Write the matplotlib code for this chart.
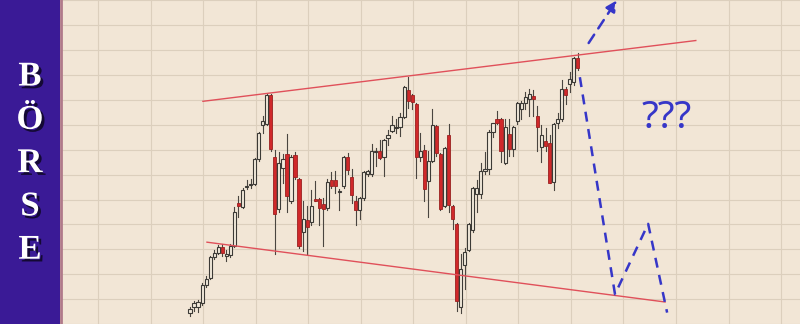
import numpy as np
import matplotlib.pyplot as plt
import matplotlib.patheffects as pe
from matplotlib.patches import Rectangle

# --- Candle data (open, close, high, low), arbitrary index points ---
opens = [0, 6, 6, 10, 29, 36, 58, 62, 68, 59, 60, 69, 114, 109, 130, 132, 133, 159, 194, 196,
         226, 161, 107, 150, 164, 116, 163, 138, 84, 96, 94, 118, 118, 113, 108, 137, 137, 125, 131, 161,
         141, 116, 106, 119, 144, 144, 166, 167, 161, 181, 188, 191, 192, 203, 231, 226, 216, 161, 169, 136,
         157, 193, 164, 111, 184, 111, 92, 6, 49, 65, 86, 123, 123, 147, 149, 187, 201, 201, 155, 185,
         170, 199, 211, 217, 221, 224, 204, 172, 178, 176, 135, 197, 201, 232, 237, 239, 264]
closes = [4, 10, 11, 29, 35, 58, 62, 68, 62, 61, 69, 104, 110, 127, 131, 133, 159, 186, 199, 226,
          170, 102, 155, 159, 121, 161, 141, 69, 97, 89, 111, 116, 108, 107, 135, 131, 131, 126, 161, 148,
          122, 106, 119, 146, 147, 167, 167, 160, 179, 184, 194, 192, 203, 234, 219, 218, 161, 167, 128, 157,
          194, 165, 107, 171, 112, 97, 12, 45, 63, 92, 129, 129, 147, 149, 187, 197, 197, 167, 192, 170,
          192, 217, 217, 223, 227, 221, 192, 184, 173, 134, 195, 201, 232, 226, 242, 264, 254]
highs = [6, 12, 13, 31, 38, 59, 65, 70, 71, 65, 71, 109, 121, 129, 137, 138, 160, 187, 204, 227,
         227, 169, 166, 164, 185, 163, 166, 139, 116, 111, 127, 136, 119, 119, 138, 146, 147, 128, 162, 165,
         149, 121, 120, 147, 148, 175, 171, 179, 180, 189, 204, 201, 207, 235, 244, 227, 217, 186, 174, 168,
         211, 194, 165, 172, 195, 112, 93, 61, 67, 93, 130, 137, 155, 166, 189, 197, 209, 202, 201, 201,
         193, 218, 219, 229, 232, 231, 214, 194, 191, 184, 197, 207, 241, 234, 249, 265, 269]
lows = [-3, 2, 1, 8, 27, 35, 56, 61, 59, 54, 58, 68, 99, 108, 128, 129, 132, 157, 186, 194,
        168, 61, 104, 134, 104, 114, 138, 67, 64, 61, 91, 116, 91, 69, 106, 129, 124, 106, 129, 144,
        114, 91, 97, 117, 142, 142, 152, 159, 142, 174, 187, 186, 183, 202, 212, 211, 139, 157, 116, 99,
        156, 162, 106, 109, 104, 87, 2, 0, 24, 64, 84, 104, 119, 144, 144, 182, 196, 156, 154, 162,
        162, 196, 201, 211, 204, 204, 167, 156, 167, 134, 127, 191, 199, 216, 229, 236, 251]

# trend channel and scenario path (bar index, price)
upper_line = ([3.2, 125.2], [219, 282])
lower_line = ([4.2, 117.6], [73, 11])
breakout = ([98.3, 106.0], [277, 326])
scenario = ([96.5, 105.2, 113.4, 118.1], [244, 19, 92, 0])

banner_text = ["B", "Ö", "R", "S", "E"]

bg = '#f2e6d6'
purple = '#3a1a96'
red = '#d0282a'
blue = '#3636c8'

fig = plt.figure(figsize=(8, 3.24), dpi=100)
fig.patch.set_facecolor(bg)

# --- left banner ---
bax = fig.add_axes([0, 0, 60 / 800, 1])
bax.set_facecolor(purple)
bax.set_xlim(0, 1)
bax.set_ylim(324, 0)
bax.set_xticks([])
bax.set_yticks([])
for s in bax.spines.values():
    s.set_visible(False)
for k, ch in enumerate(banner_text):
    bax.text(0.5, 77 + 43.3 * k, ch, ha='center', va='center', color='white',
             fontsize=25, fontweight='bold', family='Liberation Serif',
             path_effects=[pe.withSimplePatchShadow(offset=(2, -2), shadow_rgbFace='#10082a', alpha=0.9)])

# --- chart ---
ax = fig.add_axes([61 / 800, 0, 739 / 800, 1])
ax.set_facecolor(bg)
ax.set_xlim(-31.93, 150.99)
ax.set_ylim(0, 324)

xt = 94.3 - 13 * np.arange(0, 10)
ax.set_xticks(np.concatenate([xt, [107.3, 120.3, 133.3, 146.3]]))
ax.set_yticks(14 + 25.8 * np.arange(-1, 13))
ax.grid(True, color='#dccfbd', linewidth=0.8)
ax.tick_params(length=0, labelbottom=False, labelleft=False)
for s in ax.spines.values():
    s.set_visible(False)
ax.spines['left'].set_visible(True)
ax.spines['left'].set_color('#b07a8a')
ax.spines['left'].set_linewidth(2)

w = 0.8
for i in range(len(opens)):
    o, c, h, l = opens[i], closes[i], highs[i], lows[i]
    up = c >= o
    ax.plot([i, i], [l, h], color='#4a4540', linewidth=0.8, zorder=2)
    lo, hi = min(o, c), max(o, c)
    if up:
        rect = Rectangle((i - w / 2, lo), w, max(hi - lo, 0.8), facecolor='#f4ebdd',
                         edgecolor='#3c3a36', linewidth=0.8, zorder=3)
    else:
        rect = Rectangle((i - w / 2, lo), w, max(hi - lo, 0.8), facecolor=red,
                         edgecolor='#9a2020', linewidth=0.6, zorder=3)
    ax.add_patch(rect)

ax.plot(*upper_line, color='#e0505a', linewidth=1.0, zorder=4)
ax.plot(*lower_line, color='#e0505a', linewidth=1.0, zorder=4)

ax.plot(*scenario, color=blue, linewidth=1.8, linestyle=(0, (4, 3)), zorder=5)
ax.annotate('', xy=(breakout[0][1], breakout[1][1]), xytext=(breakout[0][0], breakout[1][0]),
            arrowprops=dict(arrowstyle='-|>', color=blue, lw=1.8, linestyle=(0, (4, 3)),
                            mutation_scale=16), annotation_clip=False, zorder=5)

ax.text(118.1, 202, '???', ha='center', va='center', color=blue, fontsize=28,
        family='Noto Sans')

fig.savefig('out.png', dpi=100, facecolor=bg)
